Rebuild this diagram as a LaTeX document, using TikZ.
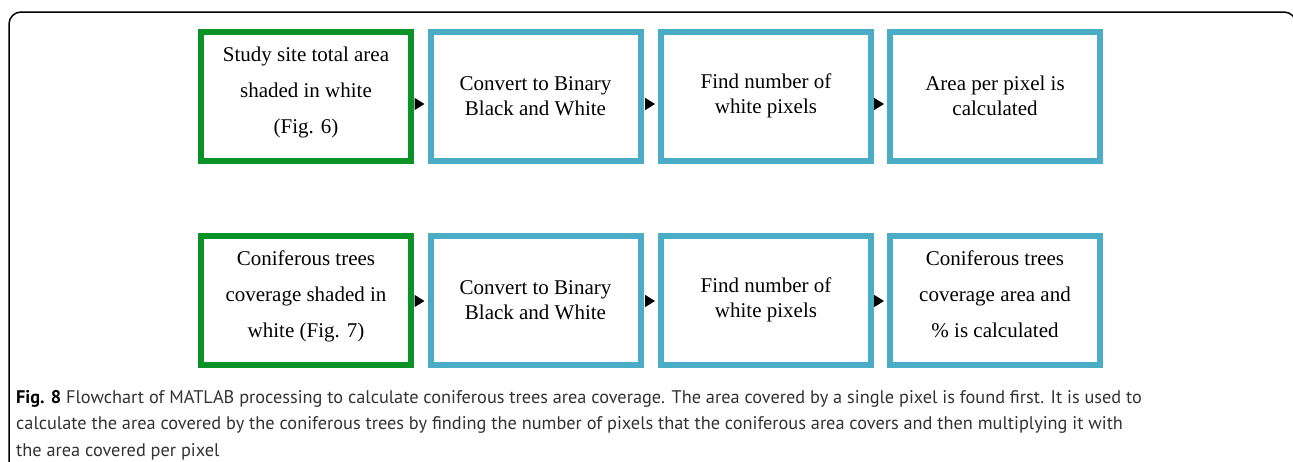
\documentclass[tikz,border=0pt]{standalone}
\usepackage{fontspec}
\setmainfont{Liberation Serif}
\newfontfamily\capfont{PT Sans}
\usetikzlibrary{arrows.meta}
\definecolor{boxgreen}{RGB}{10,145,40}
\definecolor{boxblue}{RGB}{75,172,198}
\definecolor{captext}{RGB}{50,50,50}
\begin{document}
\begin{tikzpicture}[x=1pt, y=-1pt,
stepgreen/.style={rectangle, draw=boxgreen, line width=6pt, minimum width=210pt, minimum height=129pt, align=center, text depth=12pt, font=\fontsize{21}{36}\selectfont},
stepblue/.style={stepgreen, draw=boxblue, text depth=, font=\fontsize{21}{25}\selectfont},
stepwide/.style={stepgreen, draw=boxblue},
flow/.style={-{Triangle[length=10pt, width=12pt]}, line width=1.5pt, shorten <=3pt, shorten >=3pt},
]
\useasboundingbox (0,0) rectangle (1293,461);
%Frame
\draw[line width=1.5pt, rounded corners=12pt] (9,475) -- (9,12) -- (1296,12) -- (1296,475);
%Nodes
\node[stepgreen](siteArea) at(306,96)  {Study site total area\\shaded in white\\(Fig. 6)};
\node[stepblue](siteBinary) at(535.5,96)  {Convert to Binary\\Black and White};
\node[stepblue](siteCount) at(766,96)  {Find number of\\white pixels};
\node[stepblue](pixelArea) at(995,96)  {Area per pixel is\\calculated};
\node[stepgreen](treeArea) at(306,300)  {Coniferous trees\\coverage shaded in\\white (Fig. 7)};
\node[stepblue](treeBinary) at(535.5,300)  {Convert to Binary\\Black and White};
\node[stepblue](treeCount) at(766,300)  {Find number of\\white pixels};
\node[stepwide](treeCover) at(995,300)  {Coniferous trees\\coverage area and\\\% is calculated};
%Caption
\node[anchor=north west, inner sep=0pt, align=left, text=captext, font=\capfont\fontsize{18.3}{26.5}\selectfont](caption) at(16,390)
  {{\bfseries\color{black}Fig. 8} Flowchart of MATLAB processing to calculate coniferous trees area coverage. The area covered by a single pixel is found first. It is used to\\
   calculate the area covered by the coniferous trees by finding the number of pixels that the coniferous area covers and then multiplying it with\\
   the area covered per pixel};
%Lines
\draw[flow] ([yshift=-8pt]siteArea.east) -- ([yshift=-8pt]siteBinary.west);
\draw[flow] ([yshift=-8pt]siteBinary.east) -- ([yshift=-8pt]siteCount.west);
\draw[flow] ([yshift=-8pt]siteCount.east) -- ([yshift=-8pt]pixelArea.west);
\draw[flow] ([yshift=-1pt]treeArea.east) -- ([yshift=-1pt]treeBinary.west);
\draw[flow] ([yshift=-1pt]treeBinary.east) -- ([yshift=-1pt]treeCount.west);
\draw[flow] ([yshift=-1pt]treeCount.east) -- ([yshift=-1pt]treeCover.west);
\end{tikzpicture}
\end{document}
